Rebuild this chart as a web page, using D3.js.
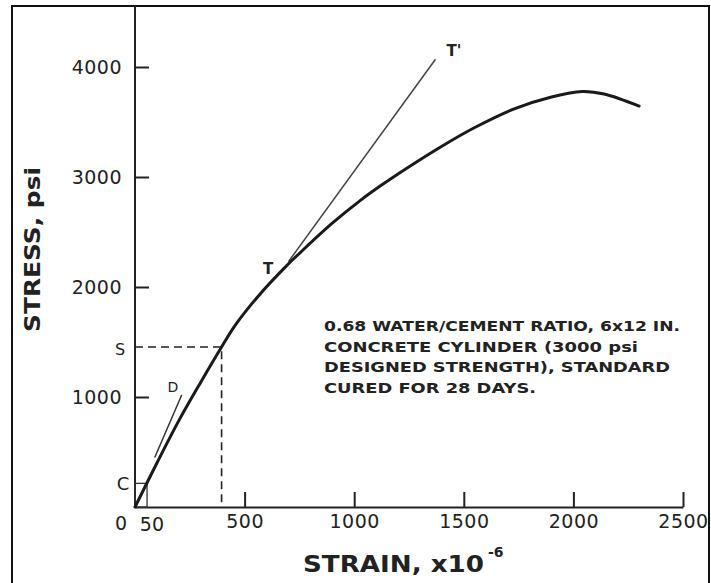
<!DOCTYPE html>
<meta charset="utf-8">
<html>
<head>
<style>
  body { margin: 0; background: #fff; }
  text { fill: #222; font-family: "DejaVu Sans", sans-serif; }
</style>
</head>
<body>
<div id="chart"></div>
<script src="https://d3js.org/d3.v7.min.js"></script>
<script>

  // stress-strain curve (strain x10^-6, stress psi)
  var strain = [0, 100, 200, 300, 395, 460, 570, 690, 755, 900, 1030, 1120, 1240, 1400, 1550, 1730, 1900, 2040, 2140, 2300];
  var stress = [0, 400, 785, 1135, 1455, 1660, 1935, 2190, 2315, 2580, 2790, 2920, 3080, 3280, 3450, 3620, 3728, 3778, 3755, 3645];

  // straight construction lines
  var tangentT = [[700, 2230], [1371, 4070]];   // T - T'
  var tangentD = [[90, 450], [213, 1018]];      // initial tangent, D
  var pointS = [395, 1455];
  var boxC = [55, 215];

  var xTicks = [500, 1000, 1500, 2000, 2500];
  var yTicks = [1000, 2000, 3000, 4000];

  var noteLines = [
    "0.68 WATER/CEMENT RATIO, 6x12 IN.",
    "CONCRETE CYLINDER (3000 psi",
    "DESIGNED STRENGTH), STANDARD",
    "CURED FOR 28 DAYS."
  ];
  var noteWidths = [356, 314, 346, 212];

  var W = 711, H = 583;

  var svg = d3.select("#chart").append("svg")
      .attr("width", W)
      .attr("height", H);

  svg.append("rect").attr("width", W).attr("height", H).attr("fill", "#fff");

  // frame
  svg.append("rect")
      .attr("x", 12).attr("y", 6)
      .attr("width", 697).attr("height", 620)
      .attr("fill", "none")
      .attr("stroke", "#111")
      .attr("stroke-width", 2);

  var x = d3.scaleLinear().domain([0, 2500]).range([135, 683]);
  var y = d3.scaleLinear().domain([0, 4000]).range([507, 67]);

  // axes with inward ticks
  var gx = svg.append("g")
      .attr("transform", "translate(0," + y(0) + ")")
      .call(d3.axisBottom(x).tickValues(xTicks).tickFormat(d3.format("d"))
        .tickSize(-15).tickSizeOuter(0).tickPadding(4));
  var gy = svg.append("g")
      .attr("transform", "translate(" + x(0) + ",0)")
      .call(d3.axisLeft(y).tickValues(yTicks).tickFormat(d3.format("d"))
        .tickSize(-14).tickSizeOuter(0).tickPadding(13));

  gy.select(".domain").attr("d", "M0," + (y(4555)) + "V" + y(0));
  [gx, gy].forEach(function(g) {
    g.selectAll("path, line").attr("stroke", "#222").attr("stroke-width", 2);
    g.selectAll("text")
      .style("font-family", "DejaVu Sans")
      .style("font-size", "19px")
      .style("letter-spacing", "0.5px")
      .attr("fill", "#222");
  });
  gx.selectAll("text").attr("dy", "0.9em");

  // "0" and "50" labels at origin
  svg.append("text").attr("x", x(0) - 14).attr("y", y(0) + 23)
      .attr("text-anchor", "middle").style("font-size", "19px").text("0");
  svg.append("text").attr("x", x(50) + 6).attr("y", y(0) + 24)
      .attr("text-anchor", "middle").style("font-size", "19px").text("50");

  // dashed lines to S
  svg.append("path")
      .attr("d", "M" + x(0) + "," + y(pointS[1]) + "H" + x(pointS[0]) + "V" + y(0))
      .attr("fill", "none")
      .attr("stroke", "#222")
      .attr("stroke-width", 1.6)
      .attr("stroke-dasharray", "8,5");

  // small box at C
  svg.append("rect")
      .attr("x", x(0)).attr("y", y(boxC[1]))
      .attr("width", x(boxC[0]) - x(0)).attr("height", y(0) - y(boxC[1]))
      .attr("fill", "none").attr("stroke", "#333").attr("stroke-width", 1.3);

  var line = d3.line().x(function(d) { return x(d[0]); }).y(function(d) { return y(d[1]); });

  svg.append("path").attr("d", line(tangentT))
      .attr("fill", "none").attr("stroke", "#444").attr("stroke-width", 1.5);
  svg.append("path").attr("d", line(tangentD))
      .attr("fill", "none").attr("stroke", "#333").attr("stroke-width", 1.5);

  // main curve
  var pts = strain.map(function(s, i) { return [s, stress[i]]; });
  svg.append("path")
      .attr("d", d3.line().curve(d3.curveCatmullRom)
        .x(function(d) { return x(d[0]); })
        .y(function(d) { return y(d[1]); })(pts))
      .attr("fill", "none")
      .attr("stroke", "#1a1a1a")
      .attr("stroke-width", 3)
      .attr("stroke-linecap", "round");

  // point labels
  svg.append("text").attr("x", 120).attr("y", 355).attr("text-anchor", "middle")
      .style("font-size", "16px").text("S");
  svg.append("text").attr("x", 123).attr("y", 490).attr("text-anchor", "middle")
      .style("font-size", "18px").text("C");
  svg.append("text").attr("x", 173).attr("y", 392).attr("text-anchor", "middle")
      .style("font-size", "14px").text("D");
  svg.append("text").attr("x", 268).attr("y", 274).attr("text-anchor", "middle")
      .style("font-size", "15px").style("font-weight", "bold").text("T");
  svg.append("text").attr("x", 454).attr("y", 56).attr("text-anchor", "middle")
      .style("font-size", "15px").style("font-weight", "bold").text("T'");

  // note
  svg.append("g").selectAll("text")
    .data(noteLines)
    .enter().append("text")
      .attr("x", 324)
      .attr("y", function(d, i) { return 331 + i * 20.7; })
      .attr("textLength", function(d, i) { return noteWidths[i]; })
      .attr("lengthAdjust", "spacingAndGlyphs")
      .style("font-size", "14px")
      .style("font-weight", "bold")
      .text(function(d) { return d; });

  // axis titles
  svg.append("text")
      .attr("transform", "translate(40,332) rotate(-90)")
      .attr("textLength", 165)
      .attr("lengthAdjust", "spacingAndGlyphs")
      .style("font-size", "21px")
      .style("font-weight", "bold")
      .text("STRESS, psi");

  svg.append("text")
      .attr("x", 303).attr("y", 572)
      .attr("textLength", 181)
      .attr("lengthAdjust", "spacingAndGlyphs")
      .style("font-size", "23px")
      .style("font-weight", "bold")
      .text("STRAIN, x10");
  svg.append("text")
      .attr("x", 488).attr("y", 557)
      .style("font-size", "14px")
      .style("font-weight", "bold")
      .text("-6");

</script>
</body>
</html>
